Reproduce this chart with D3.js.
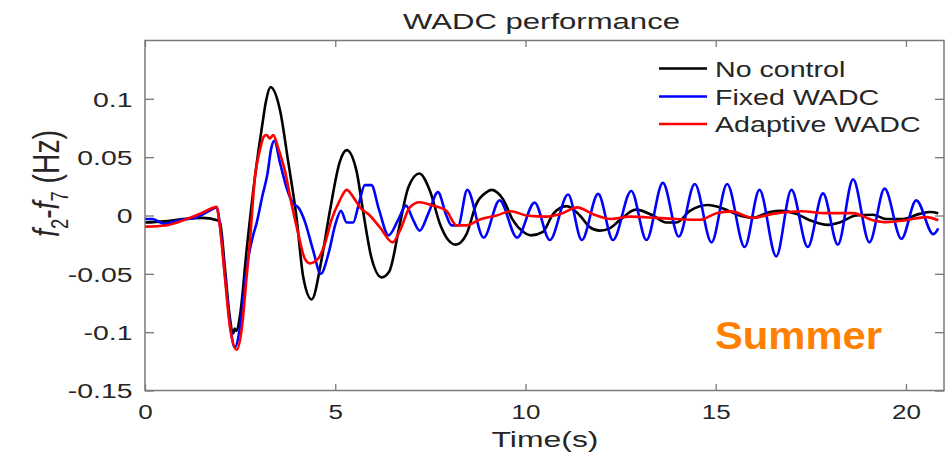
<!DOCTYPE html>
<html>
<head>
<meta charset="utf-8">
<script src="https://cdn.jsdelivr.net/npm/d3@7"></script>
<style>
  html, body { margin: 0; padding: 0; background: #ffffff; }
  svg { display: block; }
  text { font-family: "Liberation Sans", Arial, Helvetica, sans-serif; }
</style>
</head>
<body>
<svg id="chart" width="951" height="453"></svg>
<script>
// ---------------- data ----------------
const chartTitle = "WADC performance";
const xLabel = "Time(s)";
const seriesNames = ["No control", "Fixed WADC", "Adaptive WADC"];
const seriesColors = ["#000000", "#0000ff", "#ff0000"];
const xTicks = [0, 5, 10, 15, 20];
const yTicks = [-0.15, -0.1, -0.05, 0, 0.05, 0.1];
const yTickLabels = ["-0.15", "-0.1", "-0.05", "0", "0.05", "0.1"];
const annotation = "Summer";

const tNoControl = [0.0, 0.5, 1.0, 1.5, 1.9, 1.97, 2.10, 2.22, 2.32, 2.36, 2.40, 2.50, 2.67, 2.89, 3.07, 3.18, 3.30, 3.55, 3.76, 3.98, 4.16, 4.38, 4.64, 4.86, 5.12, 5.30, 5.56, 5.73, 5.95, 6.22, 6.42, 6.70, 6.92, 7.21, 7.49, 7.75, 7.97, 8.17, 8.45, 8.71, 8.98, 9.10, 9.41, 9.67, 9.94, 10.14, 10.46, 10.72, 11.08, 11.43, 11.69, 11.95, 12.21, 12.48, 12.90, 13.35, 13.70, 13.97, 14.32, 14.80, 15.19, 15.63, 15.98, 16.42, 16.72, 17.12, 17.47, 17.95, 18.26, 18.69, 19.13, 19.48, 19.92, 20.36, 20.65, 20.85];
const vNoControl = [-0.006, -0.005, -0.003, -0.002, -0.004, -0.006, -0.045, -0.085, -0.101, -0.097, -0.099, -0.085, -0.030, 0.033, 0.075, 0.098, 0.110, 0.090, 0.047, -0.001, -0.053, -0.072, -0.038, 0.004, 0.046, 0.056, 0.038, 0.004, -0.036, -0.053, -0.048, -0.007, 0.024, 0.036, 0.021, -0.007, -0.021, -0.025, -0.016, 0.010, 0.020, 0.022, 0.014, -0.004, -0.014, -0.017, -0.014, 0.001, 0.008, 0.000, -0.010, -0.013, -0.011, -0.004, 0.005, 0.000, -0.006, -0.006, 0.004, 0.009, 0.006, 0.000, -0.002, 0.003, 0.004, 0.0014, -0.004, -0.008, -0.006, 0.000, 0.0006, -0.003, -0.003, 0.0014, 0.003, 0.002];

const tFixed = [0.0, 0.2, 0.5, 0.9, 1.35, 1.75, 1.88, 1.97, 2.10, 2.23, 2.36, 2.50, 2.67, 2.85, 2.93, 3.08, 3.22, 3.32, 3.40, 3.55, 3.72, 3.88, 4.05, 4.20, 4.42, 4.62, 4.82, 5.00, 5.15, 5.30, 5.47, 5.62, 5.78, 5.95, 6.15, 6.40, 6.65, 6.86, 7.05, 7.22, 7.45, 7.70, 7.92, 8.06, 8.23, 8.47, 8.90, 9.32, 9.78, 10.24, 10.64, 11.12, 11.48, 11.91, 12.30, 12.78, 13.18, 13.61, 14.03, 14.45, 14.89, 15.30, 15.76, 16.15, 16.59, 16.99, 17.42, 17.82, 18.21, 18.61, 19.04, 19.44, 19.88, 20.27, 20.72, 20.85];
const vFixed = [-0.003, -0.003, -0.007, -0.004, -0.0015, 0.005, 0.007, -0.008, -0.050, -0.092, -0.113, -0.095, -0.045, -0.016, -0.007, 0.016, 0.036, 0.058, 0.064, 0.045, 0.024, 0.011, 0.006, -0.005, -0.030, -0.050, -0.033, -0.008, 0.004, -0.006, -0.006, 0.010, 0.026, 0.026, 0.005, -0.017, -0.004, 0.0085, -0.004, -0.013, 0.002, 0.020, 0.000, -0.0085, -0.0085, 0.022, -0.019, 0.013, -0.019, 0.011, -0.021, 0.018, -0.021, 0.0185, -0.021, 0.021, -0.021, 0.028, -0.018, 0.027, -0.023, 0.027, -0.027, 0.022, -0.035, 0.022, -0.027, 0.019, -0.025, 0.031, -0.023, 0.023, -0.020, 0.013, -0.016, -0.011];

const tAdaptive = [0.0, 0.55, 1.10, 1.45, 1.79, 1.88, 1.97, 2.10, 2.23, 2.41, 2.54, 2.67, 2.76, 2.89, 3.02, 3.13, 3.20, 3.28, 3.37, 3.50, 3.68, 3.85, 4.03, 4.20, 4.33, 4.55, 4.73, 4.90, 5.12, 5.30, 5.47, 5.65, 5.91, 6.17, 6.51, 6.70, 6.96, 7.21, 7.57, 7.92, 8.19, 8.45, 8.80, 9.24, 9.61, 10.03, 10.55, 10.90, 11.36, 11.78, 12.25, 12.74, 13.44, 13.97, 14.58, 15.02, 15.40, 15.98, 16.50, 17.25, 17.90, 18.61, 19.13, 19.50, 20.00, 20.53, 20.85];
const vAdaptive = [-0.0095, -0.0085, -0.003, 0.0015, 0.0066, 0.0075, -0.010, -0.053, -0.095, -0.115, -0.098, -0.053, -0.021, 0.033, 0.056, 0.068, 0.069, 0.066, 0.069, 0.058, 0.038, 0.010, -0.016, -0.037, -0.041, -0.037, -0.024, -0.004, 0.013, 0.022, 0.016, 0.007, 0.000, -0.010, -0.023, -0.013, 0.007, 0.0114, 0.0085, 0.004, -0.0085, -0.0085, -0.0034, 0.000, 0.0037, 0.000, -0.001, 0.001, 0.007, 0.001, -0.003, -0.001, -0.002, -0.003, -0.0037, 0.002, 0.0035, -0.002, 0.0014, 0.0037, 0.002, 0.002, -0.004, -0.0057, -0.004, -0.0014, -0.004];

// ---------------- layout ----------------
const svg = d3.select("#chart");
const plot = { left: 145, right: 944, top: 40.5, bottom: 390.5 };
const x = d3.scaleLinear().domain([0, 21]).range([plot.left, plot.right]);
const y = d3.scaleLinear().domain([-0.15, 0.15]).range([plot.bottom, plot.top]);
const axisColor = "#7a7a7a";
const textColor = "#262626";

// stretch helper: widen text horizontally like the (stretched) reference
function stretch(sel, factor) {
  sel.each(function () {
    const len = this.getComputedTextLength();
    d3.select(this).attr("textLength", len * factor).attr("lengthAdjust", "spacingAndGlyphs");
  });
}

// ---------------- lines ----------------
const series = [
  { name: seriesNames[0], color: seriesColors[0], t: tNoControl, v: vNoControl },
  { name: seriesNames[1], color: seriesColors[1], t: tFixed, v: vFixed },
  { name: seriesNames[2], color: seriesColors[2], t: tAdaptive, v: vAdaptive }
];
const line = d3.line().x(d => x(d[0])).y(d => y(d[1])).curve(d3.curveMonotoneX);
const gLines = svg.append("g");
series.forEach(s => {
  gLines.append("path")
    .datum(s.t.map((t, i) => [t, s.v[i]]))
    .attr("fill", "none")
    .attr("stroke", s.color)
    .attr("stroke-width", 2.6)
    .attr("stroke-linejoin", "round")
    .attr("d", line);
});

// ---------------- axes ----------------
function styleAxis(g) {
  g.select(".domain").attr("stroke", axisColor).attr("stroke-width", 1.5);
  g.selectAll(".tick line").attr("stroke", axisColor).attr("stroke-width", 1.3);
}
const gx = svg.append("g").attr("transform", `translate(0,${plot.bottom})`)
  .call(d3.axisBottom(x).tickValues(xTicks).tickSizeInner(-6.5).tickSizeOuter(0).tickPadding(0).tickFormat(d3.format("d")));
styleAxis(gx);
gx.selectAll(".tick text")
  .attr("y", 28.5).attr("dy", 0)
  .attr("fill", textColor).attr("font-size", 20)
  .attr("text-anchor", "middle");
stretch(gx.selectAll(".tick text"), 1.3);

const gxTop = svg.append("g").attr("transform", `translate(0,${plot.top})`)
  .call(d3.axisTop(x).tickValues(xTicks).tickSizeInner(-6.5).tickSizeOuter(0).tickFormat(""));
styleAxis(gxTop);

const gy = svg.append("g").attr("transform", `translate(${plot.left},0)`)
  .call(d3.axisLeft(y).tickValues(yTicks).tickSizeInner(-9).tickSizeOuter(0).tickFormat((d, i) => yTickLabels[i]));
styleAxis(gy);
gy.selectAll(".tick text")
  .attr("fill", textColor).attr("font-size", 20)
  .attr("dy", "0.36em").attr("text-anchor", "start");
gy.selectAll(".tick text").each(function () {
  const len = this.getComputedTextLength() * 1.42;
  d3.select(this).attr("x", -12.5 - len)
    .attr("textLength", len).attr("lengthAdjust", "spacingAndGlyphs");
});

const gyRight = svg.append("g").attr("transform", `translate(${plot.right},0)`)
  .call(d3.axisRight(y).tickValues(yTicks).tickSizeInner(-9).tickSizeOuter(0).tickFormat(""));
styleAxis(gyRight);

svg.selectAll(".domain").remove();
svg.append("rect")
  .attr("x", plot.left).attr("y", plot.top)
  .attr("width", plot.right - plot.left).attr("height", plot.bottom - plot.top)
  .attr("fill", "none").attr("stroke", axisColor).attr("stroke-width", 1.5);

// ---------------- titles / labels ----------------
svg.append("text")
  .attr("x", 541.5).attr("y", 29)
  .attr("text-anchor", "middle").attr("font-size", 22).attr("fill", textColor)
  .attr("textLength", 277).attr("lengthAdjust", "spacingAndGlyphs")
  .text(chartTitle);

svg.append("text")
  .attr("x", 545).attr("y", 447)
  .attr("text-anchor", "middle").attr("font-size", 22).attr("fill", textColor)
  .attr("textLength", 107).attr("lengthAdjust", "spacingAndGlyphs")
  .text(xLabel);

const yl = svg.append("text")
  .attr("transform", "translate(59,183.5) scale(1.42,1) rotate(-90)")
  .attr("text-anchor", "middle").attr("font-size", 26).attr("fill", textColor)
  .attr("textLength", 107).attr("lengthAdjust", "spacingAndGlyphs");
yl.append("tspan").attr("font-style", "italic").text("f");
yl.append("tspan").attr("font-size", 17).attr("dy", 6).text("2");
yl.append("tspan").attr("dy", -6).text("-");
yl.append("tspan").attr("font-style", "italic").text("f");
yl.append("tspan").attr("font-size", 17).attr("dy", 6).text("7");
yl.append("tspan").attr("dy", -6).text(" (Hz)");

// ---------------- legend ----------------
const legendY = [68.5, 96.5, 124];
const gLeg = svg.append("g");
series.forEach((s, i) => {
  gLeg.append("line")
    .attr("x1", 659).attr("x2", 707)
    .attr("y1", legendY[i]).attr("y2", legendY[i])
    .attr("stroke", s.color).attr("stroke-width", 2.6);
  const tx = gLeg.append("text")
    .attr("x", 715).attr("y", legendY[i] + 8)
    .attr("font-size", 22).attr("fill", textColor)
    .text(s.name);
  stretch(tx, 1.3);
});

// ---------------- annotation ----------------
svg.append("text")
  .attr("x", 715).attr("y", 348.5)
  .attr("font-size", 39).attr("font-weight", "bold").attr("fill", "#ff8000")
  .attr("textLength", 167).attr("lengthAdjust", "spacingAndGlyphs")
  .text(annotation);
</script>
</body>
</html>
